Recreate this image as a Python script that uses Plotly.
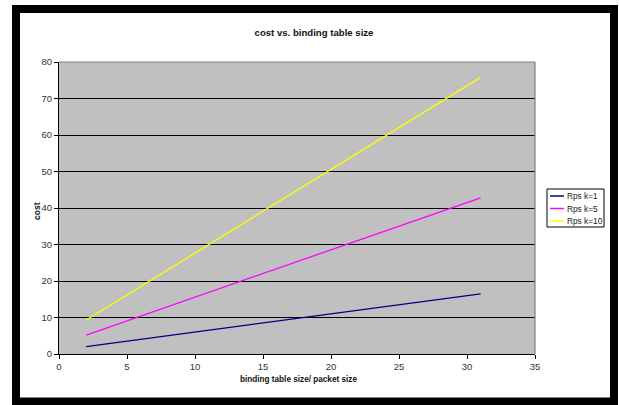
import plotly.graph_objects as go

# Series data: cost against binding table size / packet size
x_vals = [2, 4, 8, 16, 31]
series_names = ["Rps k=1", "Rps k=5", "Rps k=10"]
cost_k1 = [2.0, 3.0, 5.0, 9.0, 16.5]
cost_k5 = [5.2, 7.8, 13.0, 23.4, 42.8]
cost_k10 = [9.3, 13.9, 23.0, 41.4, 75.8]
series_values = [cost_k1, cost_k5, cost_k10]
series_colors = ["#000080", "#FF00FF", "#FFFF00"]

x_ticks = [0, 5, 10, 15, 20, 25, 30, 35]
y_ticks = [0, 10, 20, 30, 40, 50, 60, 70, 80]

W, H = 619, 405
L, R, T, B = 59, 84, 62, 51
PW, PH = W - L - R, H - T - B


def px_x(p):
    return (p - L) / PW


def px_y(p):
    return (H - B - p) / PH


FONT = "Liberation Sans, Arial, sans-serif"

fig = go.Figure()
for name, vals, col in zip(series_names, series_values, series_colors):
    fig.add_trace(go.Scatter(x=x_vals, y=vals, mode="lines", name=name,
                             line=dict(color=col, width=1.3), showlegend=False))

shapes = []
# outer black frame
shapes.append(dict(type="rect", xref="paper", yref="paper",
                   x0=px_x(16), x1=px_x(614), y0=px_y(401.5), y1=px_y(9),
                   line=dict(color="black", width=8), fillcolor="rgba(0,0,0,0)",
                   layer="below"))
# grey top and right border of plot area
shapes.append(dict(type="line", xref="paper", yref="paper", x0=0, x1=1, y0=1, y1=1,
                   line=dict(color="#808080", width=1.2), layer="above"))
shapes.append(dict(type="line", xref="paper", yref="paper", x0=1, x1=1, y0=0, y1=1,
                   line=dict(color="#808080", width=1.2), layer="above"))

# legend box
shapes.append(dict(type="rect", xref="paper", yref="paper",
                   x0=px_x(547), x1=px_x(604), y0=px_y(227), y1=px_y(189),
                   line=dict(color="black", width=1), fillcolor="white", layer="above"))
annotations = []
row_y = [196, 208.5, 221]
for name, col, ry in zip(series_names, series_colors, row_y):
    shapes.append(dict(type="line", xref="paper", yref="paper",
                       x0=px_x(550), x1=px_x(564), y0=px_y(ry), y1=px_y(ry),
                       line=dict(color=col, width=1.5), layer="above"))
    annotations.append(dict(text=name, xref="paper", yref="paper",
                            x=px_x(565), y=px_y(ry), xanchor="left", yanchor="middle",
                            showarrow=False, font=dict(family=FONT, size=8.3, color="#222")))

# axis titles
annotations.append(dict(text="<b>binding table size/ packet size</b>", xref="paper", yref="paper",
                        x=px_x(298), y=px_y(379), xanchor="center", yanchor="middle",
                        showarrow=False, font=dict(family=FONT, size=8.2, color="#111")))
annotations.append(dict(text="<b>cost</b>", xref="paper", yref="paper",
                        x=px_x(37), y=px_y(211), xanchor="center", yanchor="middle",
                        textangle=-90, showarrow=False,
                        font=dict(family=FONT, size=8.5, color="#111")))

fig.update_layout(
    width=W, height=H,
    margin=dict(l=L, r=R, t=T, b=B),
    paper_bgcolor="white",
    plot_bgcolor="#C0C0C0",
    title=dict(text="<b>cost vs. binding table size</b>", x=314 / W, xanchor="center",
               y=1 - 33 / H, yanchor="middle", yref="container",
               font=dict(family=FONT, size=9.6, color="#111")),
    shapes=shapes,
    annotations=annotations,
    showlegend=False,
    xaxis=dict(range=[0, 35], tickvals=x_ticks, ticktext=[str(v) for v in x_ticks],
               showgrid=False, zeroline=False, showline=True, linecolor="black",
               linewidth=1, ticks="outside", ticklen=4, tickcolor="black",
               tickfont=dict(family=FONT, size=9.5, color="#333")),
    yaxis=dict(range=[0, 80], tickvals=y_ticks, ticktext=[str(v) for v in y_ticks],
               showgrid=True, gridcolor="black", gridwidth=1, zeroline=False,
               showline=True, linecolor="black", linewidth=1, ticks="outside",
               ticklen=4, tickcolor="black",
               tickfont=dict(family=FONT, size=9.5, color="#333")),
)

fig.write_html("out.html")
